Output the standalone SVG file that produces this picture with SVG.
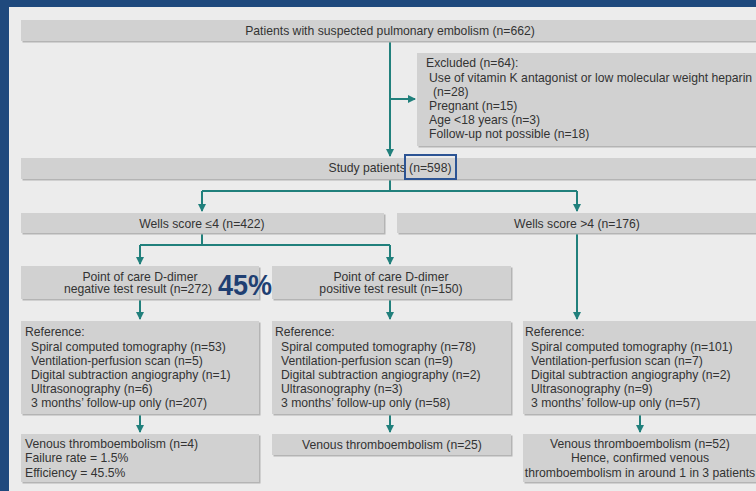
<svg xmlns="http://www.w3.org/2000/svg" width="756" height="491" viewBox="0 0 756 491">
<defs>
<style>
.box{fill:#d1d1d1}
.sh{fill:#b4b4b4}
.t{font-family:"Liberation Sans",Arial,sans-serif;font-size:12.2px;fill:#333333}
.c{text-anchor:middle}
.con{stroke:#21807c;stroke-width:2;fill:none}
</style>
<marker id="ah" markerUnits="userSpaceOnUse" markerWidth="8" markerHeight="9" refX="7" refY="4" orient="auto">
<path d="M0,0 L8,4 L0,8 Z" fill="#21807c"/>
</marker>
</defs>
<rect x="0" y="0" width="756" height="491" fill="#1f497d"/>
<rect x="9" y="7" width="747" height="484" fill="#ececec"/>

<g id="connectors">
<path class="con" d="M390,41 V156" marker-end="url(#ah)"/>
<path class="con" d="M390,99 H415" marker-end="url(#ah)"/>
<path class="con" d="M390,179 V191 M202,191 H577"/>
<path class="con" d="M202,191 V211" marker-end="url(#ah)"/>
<path class="con" d="M577,191 V211" marker-end="url(#ah)"/>
<path class="con" d="M202,233 V245 M140,245 H390"/>
<path class="con" d="M140,245 V264" marker-end="url(#ah)"/>
<path class="con" d="M390,245 V264" marker-end="url(#ah)"/>
<path class="con" d="M577,233 V319" marker-end="url(#ah)"/>
<path class="con" d="M140,300 V319" marker-end="url(#ah)"/>
<path class="con" d="M390,300 V319" marker-end="url(#ah)"/>
<path class="con" d="M140,414 V432" marker-end="url(#ah)"/>
<path class="con" d="M390,414 V432" marker-end="url(#ah)"/>
<path class="con" d="M640,414 V432" marker-end="url(#ah)"/>
</g>

<g id="n_top">
<rect class="sh" x="22.5" y="21.5" width="740" height="21"/>
<rect class="box" x="21" y="20" width="740" height="21"/>
<text class="t c" x="390" y="35">Patients with suspected pulmonary embolism (n=662)</text>
</g>

<g id="n_excluded">
<rect class="sh" x="418.5" y="54.5" width="345" height="93"/>
<rect class="box" x="417" y="53" width="345" height="93"/>
<text class="t" x="426" y="67">Excluded (n=64):</text>
<text class="t" x="429" y="81.5">Use of vitamin K antagonist or low molecular weight heparin</text>
<text class="t" x="433" y="95.5">(n=28)</text>
<text class="t" x="429" y="110">Pregnant (n=15)</text>
<text class="t" x="429" y="124">Age &lt;18 years (n=3)</text>
<text class="t" x="429" y="138">Follow-up not possible (n=18)</text>
</g>

<g id="n_study">
<rect class="sh" x="22.5" y="159.5" width="740" height="21"/>
<rect class="box" x="21" y="158" width="740" height="21"/>
<text class="t c" x="390" y="172">Study patients (n=598)</text>
<rect x="405" y="155" width="51" height="24" fill="none" stroke="#2c5494" stroke-width="2"/>
</g>

<g id="n_wells_low">
<rect class="sh" x="22.5" y="214.5" width="363" height="20"/>
<rect class="box" x="21" y="213" width="363" height="20"/>
<text class="t c" x="202" y="227.5">Wells score ≤4 (n=422)</text>
</g>

<g id="n_wells_high">
<rect class="sh" x="398.5" y="214.5" width="365" height="20"/>
<rect class="box" x="397" y="213" width="365" height="20"/>
<text class="t c" x="577" y="227.5">Wells score &gt;4 (n=176)</text>
</g>

<g id="n_dd_neg">
<rect class="sh" x="22.5" y="267.5" width="238" height="33"/>
<rect class="box" x="21" y="266" width="238" height="33"/>
<text class="t c" x="140" y="280.5">Point of care D-dimer</text>
<text class="t c" x="138" y="293">negative test result (n=272)</text>
</g>

<g id="n_dd_pos">
<rect class="sh" x="273.5" y="267.5" width="239" height="33"/>
<rect class="box" x="272" y="266" width="239" height="33"/>
<text class="t c" x="391" y="280.5">Point of care D-dimer</text>
<text class="t c" x="391" y="293">positive test result (n=150)</text>
</g>

<g id="n_45">
<text x="218" y="295" font-family="'Liberation Sans',Arial,sans-serif" font-size="30" font-weight="bold" fill="#1f3f72" textLength="54" lengthAdjust="spacingAndGlyphs">45%</text>
</g>

<g id="n_ref_left">
<rect class="sh" x="22.5" y="322.5" width="238" height="93"/>
<rect class="box" x="21" y="321" width="238" height="93"/>
<text class="t" x="25" y="336">Reference:</text>
<text class="t" x="31" y="350.5">Spiral computed tomography (n=53)</text>
<text class="t" x="31" y="364.5">Ventilation-perfusion scan (n=5)</text>
<text class="t" x="31" y="378.5">Digital subtraction angiography (n=1)</text>
<text class="t" x="31" y="392.5">Ultrasonography (n=6)</text>
<text class="t" x="31" y="406.5">3 months’ follow-up only (n=207)</text>
</g>

<g id="n_ref_mid">
<rect class="sh" x="273.5" y="322.5" width="239" height="93"/>
<rect class="box" x="272" y="321" width="239" height="93"/>
<text class="t" x="275" y="336">Reference:</text>
<text class="t" x="281" y="350.5">Spiral computed tomography (n=78)</text>
<text class="t" x="281" y="364.5">Ventilation-perfusion scan (n=9)</text>
<text class="t" x="281" y="378.5">Digital subtraction angiography (n=2)</text>
<text class="t" x="281" y="392.5">Ultrasonography (n=3)</text>
<text class="t" x="281" y="406.5">3 months’ follow-up only (n=58)</text>
</g>

<g id="n_ref_right">
<rect class="sh" x="524.5" y="322.5" width="240" height="93"/>
<rect class="box" x="523" y="321" width="240" height="93"/>
<text class="t" x="525" y="336">Reference:</text>
<text class="t" x="531" y="350.5">Spiral computed tomography (n=101)</text>
<text class="t" x="531" y="364.5">Ventilation-perfusion scan (n=7)</text>
<text class="t" x="531" y="378.5">Digital subtraction angiography (n=2)</text>
<text class="t" x="531" y="392.5">Ultrasonography (n=9)</text>
<text class="t" x="531" y="406.5">3 months’ follow-up only (n=57)</text>
</g>

<g id="n_vte_left">
<rect class="sh" x="22.5" y="435.5" width="238" height="48"/>
<rect class="box" x="21" y="434" width="238" height="48"/>
<text class="t" x="25" y="447.5">Venous thromboembolism (n=4)</text>
<text class="t" x="25" y="462">Failure rate = 1.5%</text>
<text class="t" x="25" y="476.5">Efficiency = 45.5%</text>
</g>

<g id="n_vte_mid">
<rect class="sh" x="273.5" y="435.5" width="239" height="21"/>
<rect class="box" x="272" y="434" width="239" height="21"/>
<text class="t c" x="392" y="449">Venous thromboembolism (n=25)</text>
</g>

<g id="n_vte_right">
<rect class="sh" x="524.5" y="435.5" width="240" height="48"/>
<rect class="box" x="523" y="434" width="240" height="48"/>
<text class="t c" x="640" y="447.5">Venous thromboembolism (n=52)</text>
<text class="t c" x="640" y="462">Hence, confirmed venous</text>
<text class="t c" x="640" y="476.5">thromboembolism in around 1 in 3 patients</text>
</g>
</svg>
